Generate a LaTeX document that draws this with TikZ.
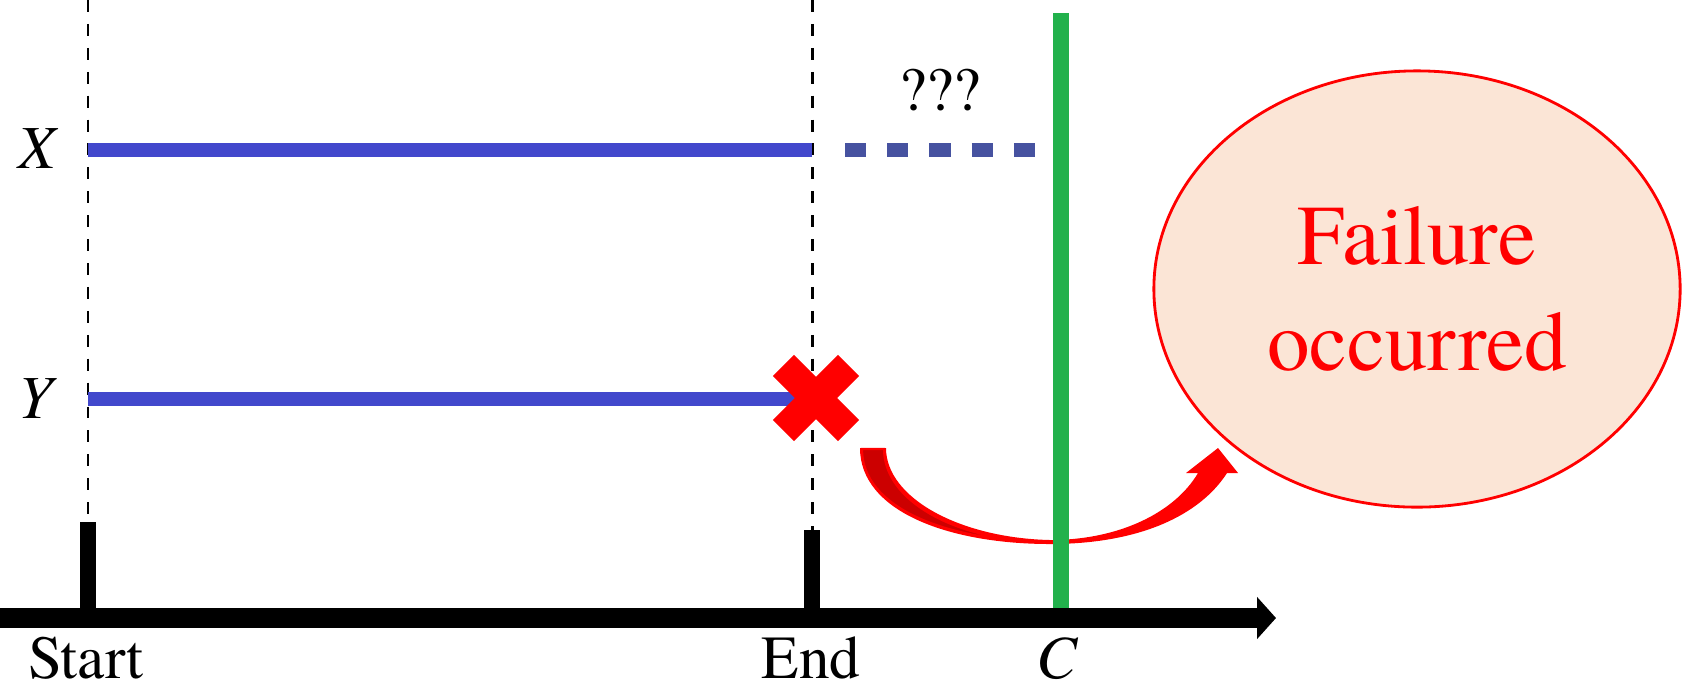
\documentclass[tikz,border=0pt]{standalone}
\usepackage{fontspec}
\setmainfont{texgyretermes}[Extension=.otf,UprightFont=*-regular,ItalicFont=*-italic,BoldFont=*-bold,BoldItalicFont=*-bolditalic]
\usetikzlibrary{arrows.meta,shapes.geometric,shapes.misc}
\definecolor{trackB}{RGB}{66,72,204}
\definecolor{unknownB}{RGB}{70,82,160}
\definecolor{censorG}{RGB}{34,177,76}
\definecolor{failF}{RGB}{251,229,214}
\definecolor{arrowD}{RGB}{204,0,0}

\begin{document}
\begin{tikzpicture}[x=0.01cm,y=-0.01cm,
  lab/.style={font=\rmfamily\fontsize{17.4}{20}\selectfont,anchor=base,inner sep=0pt},
  guide/.style={line width=0.85pt,dash pattern=on 3.4pt off 3.4pt},
  tickmark/.style={line width=4.3pt},
  track/.style={trackB,line width=4pt}]
  \useasboundingbox (0,0) rectangle (1682,690);

  % Guides from Start and End
  \draw[guide] (88,0) -- (88,522);
  \draw[guide] (812,0) -- (812,530);

  % Observed spans of X and Y
  \draw[track] (88,150) -- (812,150);
  \draw[track] (88,399) -- (816,399);
  \draw[unknownB,line width=4pt,dash pattern=on 6pt off 6pt] (845,150) -- (1035,150);
  \node[lab] (qmark) at (940,110) {???};

  % Row labels
  \node[lab] (xlab) at (37,168) {\itshape X};
  \node[lab] (ylab) at (36,418) {\itshape Y};

  % Y breaks down at End
  \node[cross out,draw=red,line width=8.5pt,minimum size=0.65cm,inner sep=0pt,
    outer sep=0pt] (fault) at (816,398) {};

  % Curved block arrow towards the failure
  \fill[red] (860,448) .. controls (860,512) and (950,544) .. (1050,544)
    .. controls (1140,544) and (1200,515) .. (1227,473)
    -- (1238,473) -- (1218,448) -- (1186,473) -- (1198,473)
    .. controls (1175,512) and (1120,540) .. (1050,540)
    .. controls (960,538) and (886,498) .. (886,448) -- cycle;
  \filldraw[fill=arrowD,draw=red,line width=0.6pt] (862,449)
    .. controls (862,508) and (945,537) .. (1025,541)
    .. controls (945,534) and (884,497) .. (884,449) -- cycle;

  % Censoring time C
  \draw[censorG,line width=4.3pt] (1061,13) -- (1061,608);

  % Time axis with ticks
  \draw[line width=5.7pt,-{Triangle[length=5.4pt,width=11.7pt]}] (0,618) -- (1276,618);
  \draw[tickmark] (88,522) -- (88,618);
  \draw[tickmark] (812,530) -- (812,618);
  \node[lab] (start) at (86,678) {Start};
  \node[lab] (end) at (811,678) {End};
  \node[lab] (clab) at (1057,678) {\itshape C};

  % Failure bubble
  \node[ellipse,draw=red,line width=0.8pt,fill=failF,minimum width=5.26cm,
    minimum height=4.36cm,inner sep=0pt,align=center,text=red,
    font=\rmfamily\fontsize{24.2}{30.2}\selectfont] (fail) at (1417,289) {Failure\\occurred};
\end{tikzpicture}
\end{document}
